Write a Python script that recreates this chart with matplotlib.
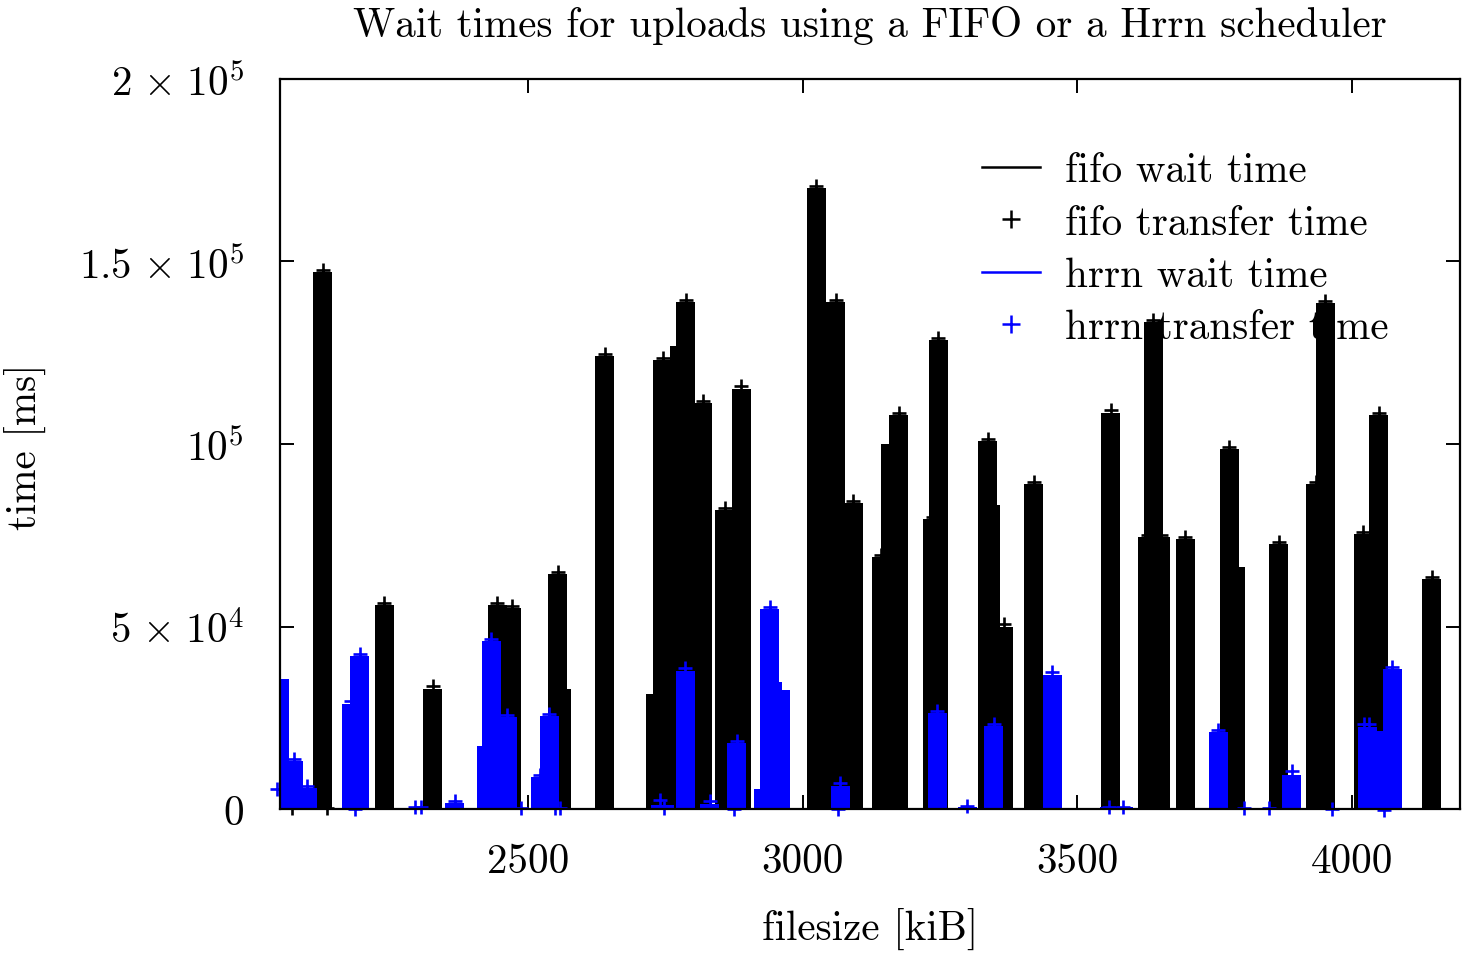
import matplotlib
matplotlib.use("Agg")
import matplotlib.pyplot as plt
from matplotlib.lines import Line2D

plt.rcParams['font.family'] = ['cmr10', 'DejaVu Serif']
plt.rcParams['mathtext.fontset'] = 'cm'
plt.rcParams['axes.unicode_minus'] = False
plt.rcParams['axes.formatter.use_mathtext'] = True

# ---- data (filesize in kiB, times in ms) ----
fifo_size = [2126, 2238, 2326, 2444, 2470, 2554, 2561, 2639, 2732, 2744, 2776, 2787, 2818,
             2858, 2888, 3025, 3060, 3092, 3143, 3160, 3175, 3237, 3247, 3337, 3342, 3365,
             3421, 3561, 3628, 3638, 3652, 3697, 3777, 3789, 3867, 3934, 3952, 4021, 4049, 4146]
fifo_wait = [147200, 55900, 33000, 55900, 55000, 64400, 33000, 124100, 31600, 123000, 126900,
             138800, 111200, 82000, 115200, 170000, 138800, 83700, 69100, 100000, 108000,
             79500, 128500, 100900, 83400, 50000, 89000, 108600, 74600, 133400, 74600, 74000,
             98600, 66400, 72600, 89000, 138700, 75400, 108000, 62900]

fifo_tr_size = [2070, 2126, 2133, 2238, 2326, 2444, 2470, 2554, 2639, 2745, 2787, 2818, 2858,
                2888, 3025, 3060, 3092, 3143, 3175, 3237, 3247, 3337, 3366, 3421, 3562, 3628,
                3638, 3652, 3697, 3777, 3867, 3934, 3952, 4021, 4049, 4146]
fifo_tr_time = [200, 147800, 200, 56500, 33600, 56500, 55600, 65000, 124700, 123600, 139400,
                111800, 82600, 115800, 170600, 139400, 84300, 69700, 108600, 80100, 129100,
                101500, 50600, 89600, 109200, 75200, 134000, 75200, 74600, 99200, 73200,
                89600, 139300, 76000, 108600, 63500]

hrrn_size = [2048, 2073, 2098, 2178, 2193, 2366, 2424, 2433, 2462, 2522, 2538, 2741, 2748,
             2786, 2831, 2880, 2929, 2940, 2945, 2959, 3068, 3245, 3300, 3348, 3454, 3558,
             3584, 3757, 3891, 4028, 4043, 4074]
hrrn_wait = [35600, 13100, 5700, 28900, 41800, 1600, 17200, 45900, 25100, 8700, 25400, 1200,
             1200, 37900, 1400, 18000, 5500, 54700, 34700, 32700, 6300, 26200, 600, 22700,
             36800, 500, 500, 21000, 9400, 22500, 21300, 38300]

hrrn_tr_size = [2043, 2073, 2098, 2178, 2193, 2185, 2294, 2304, 2366, 2433, 2462, 2487, 2522,
                2538, 2549, 2558, 2740, 2748, 2786, 2831, 2874, 2880, 2940, 3068, 3065, 3245,
                3300, 3348, 3454, 3558, 3584, 3757, 3803, 3850, 3891, 3964, 4022, 4032, 4058,
                4074]
hrrn_tr_time = [5500, 13700, 6300, 29600, 42500, 0, 600, 600, 2300, 46600, 25800, 200, 9300,
                26100, 300, 300, 2600, 200, 38600, 2100, 0, 18700, 55400, 7000, 0, 26900, 800,
                23300, 37400, 600, 600, 21600, 200, 200, 10400, 100, 23400, 23400, -300, 39000]

x_ticks = [2500, 3000, 3500, 4000]
y_ticks = [0, 50000, 100000, 150000, 200000]
y_tick_labels = [r'$0$', r'$5\hspace{0.12}\times\hspace{0.12}10^{4}$', r'$10^{5}$',
                 r'$1.5\hspace{0.12}\times\hspace{0.12}10^{5}$',
                 r'$2\hspace{0.12}\times\hspace{0.12}10^{5}$']

FS = 29.6
W, H = 1471, 954
fig = plt.figure(figsize=(W / 100, H / 100), dpi=100)
ax = fig.add_axes([280 / W, 1 - 810 / H, 1180 / W, 730 / H])

bar_w = 34.6
ax.bar(fifo_size, fifo_wait, width=bar_w, color='black', linewidth=0, zorder=2)
ax.plot(fifo_tr_size, fifo_tr_time, '+', color='black', ms=9.5, mew=1.9, clip_on=False, zorder=3)
ax.bar(hrrn_size, hrrn_wait, width=bar_w, color='#0000ff', linewidth=0, zorder=4)
ax.plot(hrrn_tr_size, hrrn_tr_time, '+', color='#0000ff', ms=9.5, mew=1.9, clip_on=False, zorder=5)

ax.set_xlim(2048, 4197)
ax.set_ylim(0, 200000)
ax.set_xticks(x_ticks)
ax.set_xticklabels([str(t) for t in x_ticks])
ax.set_yticks(y_ticks)
ax.set_yticklabels(y_tick_labels)
ax.set_axisbelow(True)
ax.tick_params(direction='in', length=10, width=1.4, top=True, right=True,
               labelsize=FS, colors='black')
ax.tick_params(axis='x', pad=24)
ax.tick_params(axis='y', pad=26)
for s in ax.spines.values():
    s.set_linewidth(1.6)
    s.set_zorder(10)

ax.set_xlabel('filesize [kiB]', fontsize=FS, va='center')
ax.xaxis.set_label_coords(0.5, -(929 - 810) / 730)
ax.set_ylabel('time [ms]', fontsize=FS, va='center', ha='center')
ax.yaxis.set_label_coords((25 - 280) / 1180, (810 - 447) / 730)
ax.set_title('Wait times for uploads using a FIFO or a Hrrn scheduler', fontsize=FS,
             va='center', y=(810 - 34) / 730)

handles = [
    Line2D([], [], color='black', lw=1.8),
    Line2D([], [], color='black', ls='none', marker='+', ms=12.5, mew=1.8),
    Line2D([], [], color='#0000ff', lw=1.8),
    Line2D([], [], color='#0000ff', ls='none', marker='+', ms=12.5, mew=1.8),
]
labels = ['fifo wait time', 'fifo transfer time', 'hrrn wait time', 'hrrn transfer time']
fs_px = FS * 100 / 72
leg = ax.legend(handles, labels, loc='upper left', frameon=False, fontsize=FS,
                bbox_to_anchor=(982 / W, 1 - 153 / H), bbox_transform=fig.transFigure,
                borderpad=0, borderaxespad=0, handlelength=58 / fs_px,
                handletextpad=25 / fs_px, labelspacing=0.36)
leg.set_zorder(1)

fig.savefig('out.png', dpi=100)
